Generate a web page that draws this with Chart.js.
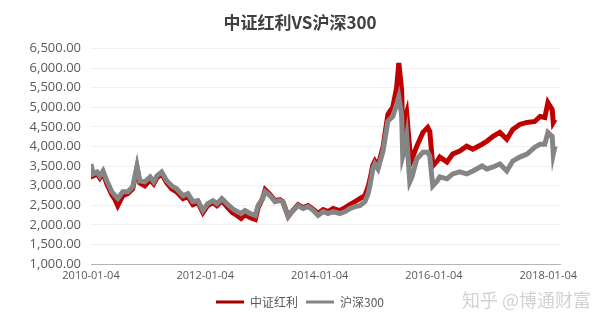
<!DOCTYPE html>
<html>
<head>
<meta charset="utf-8">
<script src="https://cdn.jsdelivr.net/npm/chart.js@4.4.0/dist/chart.umd.min.js"></script>
<style>
  html, body { margin: 0; padding: 0; background: #fff; }
  #wrap { width: 600px; height: 326px; }
</style>
</head>
<body>
<div id="wrap"><canvas id="chart"></canvas></div>
<script>
// 数据
var dates = [
  '2010-01-04','2010-01-18','2010-02-12','2010-03-01','2010-03-22','2010-04-15','2010-05-17','2010-06-07','2010-06-24','2010-07-26',
  '2010-08-27','2010-09-28','2010-10-25','2010-11-12','2010-12-14','2011-01-17','2011-02-09','2011-03-01','2011-04-01','2011-05-03',
  '2011-06-03','2011-07-05','2011-08-15','2011-09-15','2011-10-17','2011-11-18','2011-12-20','2012-01-20','2012-02-22','2012-03-19',
  '2012-04-19','2012-05-21','2012-06-25','2012-07-25','2012-08-20','2012-09-14','2012-10-16','2012-11-19','2012-12-07','2013-01-04',
  '2013-01-21','2013-02-22','2013-03-25','2013-04-25','2013-05-14','2013-06-17','2013-07-11','2013-08-19','2013-09-20','2013-10-22',
  '2013-11-25','2013-12-25','2014-01-27','2014-02-27','2014-03-31','2014-05-13','2014-06-16','2014-07-16','2014-08-18','2014-09-18',
  '2014-10-20','2014-11-10','2014-11-21','2014-12-10','2014-12-23','2015-01-12','2015-02-13','2015-03-16','2015-03-27','2015-04-16',
  '2015-05-11','2015-05-25','2015-06-12','2015-06-19','2015-07-01','2015-07-14','2015-08-03','2015-08-17','2015-09-17','2015-10-26',
  '2015-11-26','2015-12-09','2015-12-28','2016-01-25','2016-02-11','2016-03-28','2016-05-03','2016-06-17','2016-08-01','2016-09-09',
  '2016-11-07','2016-12-08','2017-01-16','2017-03-01','2017-04-14','2017-05-22','2017-07-06','2017-08-21','2017-10-10','2017-11-13',
  '2017-12-13','2018-01-02','2018-01-29','2018-02-05','2018-02-16'
];

var dividendValues = [ // 中证红利
  3500,3247,3298,3197,3323,3045,2768,2641,2490,2742,
  2793,2919,3449,3071,2995,3146,3045,3197,3298,3071,
  2919,2843,2667,2717,2515,2566,2313,2490,2566,2490,
  2616,2465,2313,2237,2162,2263,2187,2136,2439,2667,
  2894,2768,2616,2641,2591,2212,2338,2515,2439,2490,
  2389,2288,2389,2338,2414,2364,2439,2515,2591,2667,
  2742,2970,3146,3525,3626,3500,3980,4813,4889,4990,
  5495,6126,5444,4358,4687,4863,3929,3677,4005,4358,
  4485,4384,3500,3626,3727,3601,3803,3879,4005,3929,
  4055,4131,4257,4358,4182,4434,4560,4611,4636,4762,
  4737,5116,4939,4611,4687
];

var hs300Values = [ // 沪深300
  3550,3298,3348,3247,3374,3121,2843,2742,2667,2843,
  2843,2970,3500,3121,3096,3222,3096,3247,3348,3121,
  2995,2919,2742,2793,2591,2616,2364,2540,2616,2540,
  2667,2540,2414,2338,2288,2364,2288,2237,2490,2667,
  2843,2742,2591,2616,2591,2212,2338,2490,2414,2465,
  2364,2237,2338,2288,2338,2288,2338,2414,2465,2490,
  2591,2793,2995,3424,3550,3424,3879,4636,4687,4762,
  5065,5267,4813,3752,3929,4257,3096,3222,3677,3853,
  3853,3752,2995,3121,3222,3172,3298,3348,3298,3374,
  3500,3424,3475,3550,3374,3626,3727,3803,3980,4055,
  4055,4358,4257,3803,4005
];

var xTickDates = ['2010-01-04', '2012-01-04', '2014-01-04', '2016-01-04', '2018-01-04'];
var xStart = '2010-01-04';
var xEnd = '2018-03-20';

function toTime(s) {
  var p = s.split('-');
  return Date.UTC(+p[0], +p[1] - 1, +p[2]);
}

function fmtDate(t) {
  var d = new Date(t);
  var m = d.getUTCMonth() + 1, day = d.getUTCDate();
  return d.getUTCFullYear() + '-' + (m < 10 ? '0' : '') + m + '-' + (day < 10 ? '0' : '') + day;
}

function toPoints(values) {
  return values.map(function (v, i) { return { x: toTime(dates[i]), y: v }; });
}

var watermark = {
  id: 'watermark',
  afterDraw: function (chart) {
    var ctx = chart.ctx;
    ctx.save();
    ctx.font = '18px "Noto Sans CJK SC"';
    ctx.fillStyle = '#d2d2d2';
    ctx.textAlign = 'right';
    ctx.textBaseline = 'middle';
    ctx.fillText('知乎 @博通财富', 591, 300);
    ctx.restore();
  }
};

var ctx = document.getElementById('chart').getContext('2d');
var chart = new Chart(ctx, {
  type: 'line',
  data: {
    datasets: [{
      label: '中证红利',
      data: toPoints(dividendValues),
      borderColor: '#c00000',
      backgroundColor: '#a00000',
      borderWidth: 5,
      pointRadius: 0,
      tension: 0,
      order: 2
    }, {
      label: '沪深300',
      data: toPoints(hs300Values),
      borderColor: '#858585',
      backgroundColor: '#858585',
      borderWidth: 5,
      pointRadius: 0,
      tension: 0,
      order: 1
    }]
  },
  plugins: [watermark],
  options: {
    responsive: true,
    maintainAspectRatio: false,
    animation: false,
    layout: { padding: { left: 0, right: 0, top: 0, bottom: 8 } },
    plugins: {
      title: {
        display: true,
        text: '中证红利VS沪深300',
        color: '#404040',
        font: { family: '"Noto Sans CJK SC"', size: 17, weight: 'bold' },
        padding: { top: 12, bottom: 16 }
      },
      legend: {
        position: 'bottom',
        labels: {
          color: '#595959',
          font: { family: '"Noto Sans CJK SC"', size: 12 },
          boxWidth: 28,
          boxHeight: 3,
          padding: 8,
          sort: function (a, b) { return a.datasetIndex - b.datasetIndex; },
          generateLabels: function (chart) {
            var items = Chart.defaults.plugins.legend.labels.generateLabels(chart);
            items.forEach(function (it) { it.lineWidth = 0; });
            return items;
          }
        }
      },
      tooltip: { enabled: false }
    },
    scales: {
      x: {
        type: 'linear',
        min: toTime(xStart),
        max: toTime(xEnd),
        afterBuildTicks: function (scale) {
          scale.ticks = xTickDates.map(function (d) { return { value: toTime(d) }; });
        },
        afterFit: function (scale) { scale.height = 24; },
        ticks: {
          autoSkip: false,
          maxRotation: 0,
          padding: 5,
          color: '#595959',
          font: { family: '"Open Sans"', size: 11 },
          callback: function (v) { return fmtDate(v); }
        },
        grid: { display: false, drawTicks: false },
        border: { display: true, color: '#b4b4b4', width: 1 }
      },
      y: {
        min: 1000,
        max: 6500,
        afterFit: function (scale) { scale.width = 91; },
        ticks: {
          stepSize: 500,
          padding: 10,
          color: '#595959',
          font: { family: '"Open Sans"', size: 13 },
          callback: function (v) {
            return v.toLocaleString('en-US', { minimumFractionDigits: 2, maximumFractionDigits: 2 });
          }
        },
        grid: { color: '#f0f0f0', drawTicks: false },
        border: { display: false }
      },
      // 右侧留白
      yRight: {
        position: 'right',
        afterFit: function (scale) { scale.width = 40; },
        ticks: { display: false },
        grid: { display: false, drawTicks: false },
        border: { display: false }
      }
    }
  }
});
</script>
</body>
</html>
